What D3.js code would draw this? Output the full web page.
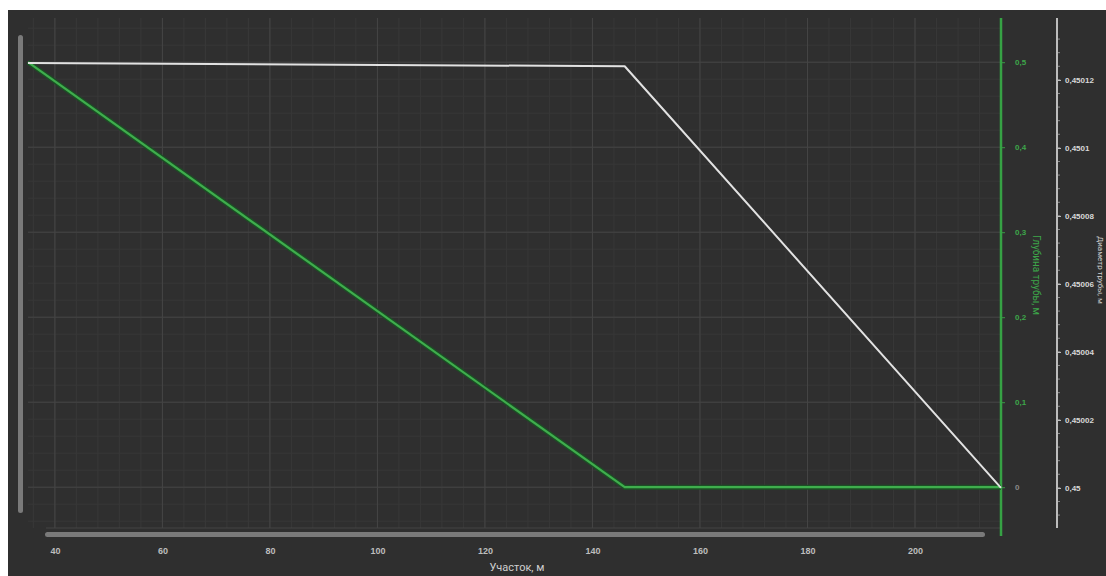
<!DOCTYPE html>
<html>
<head>
<meta charset="utf-8">
<script src="https://cdn.jsdelivr.net/npm/d3@7/dist/d3.min.js"></script>
<style>
  html, body { margin: 0; padding: 0; background: #ffffff; overflow: hidden; }
  svg { display: block; font-family: "Roboto", "DejaVu Sans", sans-serif; }
</style>
</head>
<body>
<svg id="chart" width="1106" height="576"></svg>
<script>
// Profile along the section: pipe depth (green, right axis) and second parameter (white, far-right axis)
const stations = [35, 146, 216];                 // Участок, м
const depthValues = [0.5, 0, 0];                 // Глубина трубы, м
const paramValues = [0.450125, 0.450124, 0.45];  // Диаметр трубы, м
const xTicks = [40, 60, 80, 100, 120, 140, 160, 180, 200];
const depthTicks = [0, 0.1, 0.2, 0.3, 0.4, 0.5];
const paramTicks = [0.45, 0.45002, 0.45004, 0.45006, 0.45008, 0.4501, 0.45012];

const svg = d3.select("#chart");
const W = 1106, H = 576;
const plot = { left: 28, right: 1001, top: 18, bottom: 528 };

const fmt = d => String(+d.toFixed(5)).replace(".", ",");

// Panel background
svg.append("rect").attr("x", 8).attr("y", 10).attr("width", W - 8).attr("height", H - 10)
  .attr("fill", "#2f2f2f");

const x = d3.scaleLinear().domain([35, 216]).range([plot.left, plot.right]);
const yDepth = d3.scaleLinear().domain([-0.048, 0.552]).range([plot.bottom, plot.top]);
const yParam = d3.scaleLinear().domain([0.4499882, 0.4501382]).range([plot.bottom, plot.top]);

// Grid: minor then major lines
const grid = svg.append("g");
const xMinor = d3.range(36, 217, 4);
const yMinor = d3.range(-0.04, 0.5501, 0.02);
grid.selectAll(".vmin").data(xMinor).join("line")
  .attr("x1", d => x(d)).attr("x2", d => x(d)).attr("y1", plot.top).attr("y2", plot.bottom)
  .attr("stroke", "#383838").attr("stroke-width", 1);
grid.selectAll(".hmin").data(yMinor).join("line")
  .attr("x1", plot.left).attr("x2", plot.right).attr("y1", d => yDepth(d)).attr("y2", d => yDepth(d))
  .attr("stroke", "#383838").attr("stroke-width", 1);
grid.selectAll(".vmaj").data(xTicks).join("line")
  .attr("x1", d => x(d)).attr("x2", d => x(d)).attr("y1", plot.top).attr("y2", plot.bottom)
  .attr("stroke", "#454545").attr("stroke-width", 1);
grid.selectAll(".hmaj").data(depthTicks).join("line")
  .attr("x1", plot.left).attr("x2", plot.right).attr("y1", d => yDepth(d)).attr("y2", d => yDepth(d))
  .attr("stroke", "#454545").attr("stroke-width", 1);
grid.append("line").attr("x1", plot.left + 18).attr("x2", plot.right).attr("y1", plot.bottom).attr("y2", plot.bottom)
  .attr("stroke", "#444").attr("stroke-width", 1);

// Scrollbars
svg.append("rect").attr("x", 18).attr("y", 35).attr("width", 5).attr("height", 478).attr("rx", 2.5)
  .attr("fill", "#7a7a7a");
svg.append("rect").attr("x", 45).attr("y", 532).attr("width", 940).attr("height", 5).attr("rx", 2.5)
  .attr("fill", "#7a7a7a");

// X axis labels
const xAxis = d3.axisBottom(x).tickValues(xTicks).tickSize(0).tickFormat(d => d);
const gx = svg.append("g").attr("transform", `translate(0,${plot.bottom + 17})`).call(xAxis);
gx.select(".domain").remove();
gx.selectAll("text").attr("fill", "#bdbdbd").attr("font-size", 9).attr("font-weight", "bold");
svg.append("text").attr("x", 517).attr("y", 571).attr("text-anchor", "middle")
  .attr("fill", "#cfcfcf").attr("font-size", 11).text("Участок, м");

// Green depth axis
const gDepth = svg.append("g").attr("transform", `translate(${plot.right},0)`)
  .call(d3.axisRight(yDepth).tickValues(depthTicks).tickSize(4).tickPadding(10).tickFormat(fmt));
gDepth.select(".domain").remove();
gDepth.selectAll("line").attr("stroke", "#3b9a46");
gDepth.selectAll("text").attr("fill", d => d === 0 ? "#8a8a8a" : "#3da64a").attr("font-size", 8).attr("font-weight", "bold");
svg.append("line").attr("x1", plot.right).attr("x2", plot.right).attr("y1", plot.top).attr("y2", plot.bottom + 8)
  .attr("stroke", "#36a244").attr("stroke-width", 2.5);
svg.append("text").attr("transform", `translate(1033,275) rotate(90)`).attr("text-anchor", "middle")
  .attr("fill", "#3da64a").attr("font-size", 10).text("Глубина трубы, м");

// White parameter axis
const pMinor = d3.range(0.449992, 0.450136, 0.000004);
svg.append("g").selectAll("line").data(pMinor).join("line")
  .attr("x1", 1057).attr("x2", 1060).attr("y1", d => yParam(d)).attr("y2", d => yParam(d))
  .attr("stroke", "#8a8a8a").attr("stroke-width", 1);
const gParam = svg.append("g").attr("transform", "translate(1057,0)")
  .call(d3.axisRight(yParam).tickValues(paramTicks).tickSize(4).tickPadding(4).tickFormat(fmt));
gParam.select(".domain").remove();
gParam.selectAll("line").attr("stroke", "#cfcfcf");
gParam.selectAll("text").attr("fill", "#d8d8d8").attr("font-size", 8).attr("font-weight", "bold");
svg.append("line").attr("x1", 1057).attr("x2", 1057).attr("y1", plot.top).attr("y2", plot.bottom)
  .attr("stroke", "#bdbdbd").attr("stroke-width", 2);
svg.append("text").attr("transform", `translate(1098,270) rotate(90)`).attr("text-anchor", "middle")
  .attr("fill", "#d0d0d0").attr("font-size", 8).text("Диаметр трубы, м");

// Series lines
const depthLine = d3.line().x((d, i) => x(stations[i])).y(d => yDepth(d));
const paramLine = d3.line().x((d, i) => x(stations[i])).y(d => yParam(d));

svg.append("path").datum(depthValues).attr("d", depthLine)
  .attr("fill", "none").attr("stroke", "#1c4f25").attr("stroke-width", 5).attr("stroke-linejoin", "round");
svg.append("path").datum(depthValues).attr("d", depthLine)
  .attr("fill", "none").attr("stroke", "#3fae4d").attr("stroke-width", 2.2).attr("stroke-linejoin", "round");

svg.append("path").datum(paramValues).attr("d", paramLine)
  .attr("fill", "none").attr("stroke", "#e2e2e2").attr("stroke-width", 2).attr("stroke-linejoin", "round");
</script>
</body>
</html>
